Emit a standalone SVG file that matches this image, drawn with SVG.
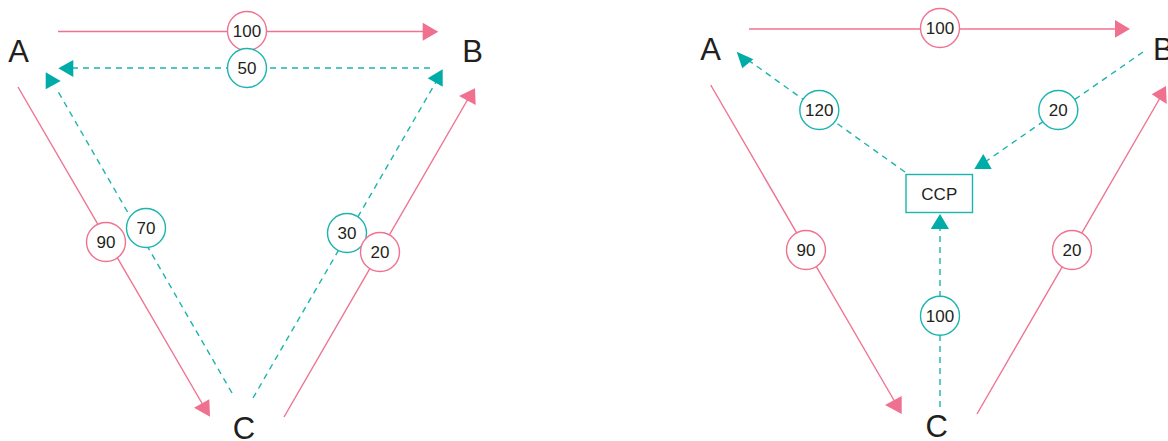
<svg xmlns="http://www.w3.org/2000/svg" width="1168" height="441" viewBox="0 0 1168 441">
<style>
.p{stroke:#EF7391;stroke-width:1.4;fill:none}
.t{stroke:#1CB4AF;stroke-width:1.4;fill:none;stroke-dasharray:6 5}
.pa{fill:#F07090}
.ta{fill:#00ACA7}
.pc{fill:#fff;stroke:#EF7391;stroke-width:1.4}
.tc{fill:#fff;stroke:#1CB4AF;stroke-width:1.4}
.n{font-family:"Liberation Sans",Arial,sans-serif;font-size:17px;fill:#231F20;text-anchor:middle}
.L{font-family:"Liberation Sans",Arial,sans-serif;font-size:31px;fill:#231F20;text-anchor:middle}
</style>
<rect width="1168" height="441" fill="#fff"/>
<g id="connectors">
<!-- left diagram -->
<line class="p" x1="58" y1="31.5" x2="424" y2="31.5"/>
<polygon class="pa" points="422.7,22.7 438.3,31.7 422.7,40.7"/>
<line class="t" x1="430" y1="68" x2="72" y2="68"/>
<polygon class="ta" points="58.3,68.3 73.3,60 73.3,77"/>
<line class="p" x1="18" y1="87" x2="203" y2="405"/>
<polygon class="pa" points="194,407.7 209.3,399.3 210,416.7"/>
<line class="t" x1="232" y1="393" x2="56" y2="88"/>
<polygon class="ta" points="45.7,72.3 60.7,81 45.7,89.3"/>
<line class="p" x1="284" y1="417" x2="468" y2="99"/>
<polygon class="pa" points="459,96 475,88.3 475.7,105"/>
<line class="t" x1="253" y1="398" x2="436" y2="82"/>
<polygon class="ta" points="427.7,78.3 442.7,69.3 442.7,86.7"/>
<!-- right diagram -->
<line class="p" x1="749" y1="29" x2="1116" y2="29"/>
<polygon class="pa" points="1115,20 1130,29 1115,37.7"/>
<line class="t" x1="905" y1="172" x2="748" y2="60"/>
<polygon class="ta" points="736.7,51.7 753.3,59.3 742.3,68.3"/>
<line class="t" x1="1143" y1="52" x2="985" y2="162"/>
<polygon class="ta" points="974.3,169 991.7,169 983.3,154"/>
<line class="t" x1="940" y1="407" x2="940" y2="228"/>
<polygon class="ta" points="930.7,229 949,229 940,214"/>
<line class="p" x1="710.7" y1="85" x2="895" y2="402"/>
<polygon class="pa" points="885,405 901.7,396 901.7,414"/>
<line class="p" x1="977" y1="414" x2="1160" y2="98"/>
<polygon class="pa" points="1151.7,94.3 1166,86 1166.7,104"/>
</g>
<g id="labels-left">
<g id="l-ab"><circle class="pc" cx="247" cy="31" r="19.5"/><text class="n" x="247" y="37">100</text></g>
<g id="l-ba"><circle class="tc" cx="247" cy="68" r="19.5"/><text class="n" x="247" y="74">50</text></g>
<g id="l-ac"><circle class="pc" cx="106" cy="242" r="19.5"/><text class="n" x="106" y="248">90</text></g>
<g id="l-ca"><circle class="tc" cx="146" cy="228" r="19.5"/><text class="n" x="146" y="234">70</text></g>
<g id="l-cb-t"><circle class="tc" cx="347" cy="233" r="19.5"/><text class="n" x="347" y="239">30</text></g>
<g id="l-cb-p"><circle class="pc" cx="380" cy="252" r="19.5"/><text class="n" x="380" y="258">20</text></g>
</g>
<g id="labels-right">
<g id="r-ab"><circle class="pc" cx="940" cy="28" r="19.5"/><text class="n" x="940" y="34">100</text></g>
<g id="r-ccpa"><circle class="tc" cx="819.3" cy="110" r="19.5"/><text class="n" x="819.3" y="116">120</text></g>
<g id="r-bccp"><circle class="tc" cx="1058.3" cy="110" r="19.5"/><text class="n" x="1058.3" y="116">20</text></g>
<g id="r-cccp"><circle class="tc" cx="940" cy="315.7" r="19.5"/><text class="n" x="940" y="321.7">100</text></g>
<g id="r-ac"><circle class="pc" cx="806" cy="250" r="19.5"/><text class="n" x="806" y="256">90</text></g>
<g id="r-cb"><circle class="pc" cx="1072" cy="250" r="19.5"/><text class="n" x="1072" y="256">20</text></g>
</g>
<g id="node-A1"><text class="L" x="18.7" y="62">A</text></g>
<g id="node-B1"><text class="L" x="472.5" y="62">B</text></g>
<g id="node-C1"><text class="L" x="244" y="439">C</text></g>
<g id="node-A2"><text class="L" x="710.7" y="60">A</text></g>
<g id="node-B2"><text class="L" x="1153" y="59.5" style="text-anchor:start">B</text></g>
<g id="node-C2"><text class="L" x="936.7" y="437">C</text></g>
<g id="node-CCP"><rect x="906" y="174.5" width="66.5" height="38" fill="#fff" stroke="#1CB4AF" stroke-width="1.4"/><text class="n" x="939.3" y="199.5">CCP</text></g>
</svg>
